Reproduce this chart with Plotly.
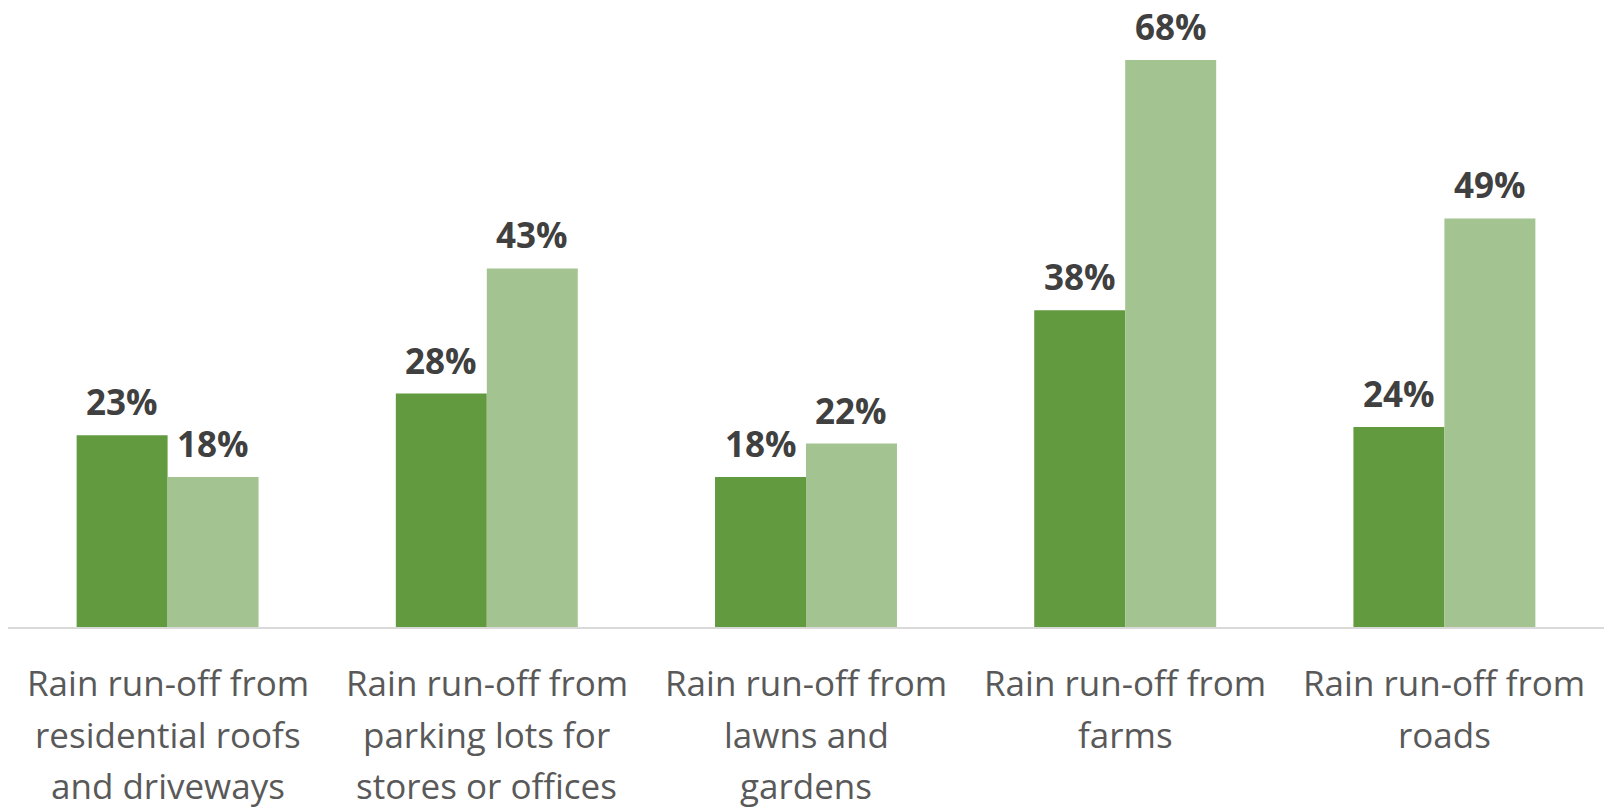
import plotly.graph_objects as go

categories = [
    "Rain run-off from<br>residential roofs<br>and driveways",
    "Rain run-off from<br>parking lots for<br>stores or offices",
    "Rain run-off from<br>lawns and<br>gardens",
    "Rain run-off from<br>farms",
    "Rain run-off from<br>roads",
]
series_a = [23, 28, 18, 38, 24]
series_b = [18, 43, 22, 68, 49]

DARK = "#629A3F"
LIGHT = "#A3C490"
BARGAP = 0.43

fig = go.Figure()
x_idx = list(range(len(categories)))
fig.add_trace(go.Bar(x=x_idx, y=series_a, marker=dict(color=DARK, line=dict(width=0)),
                     name="Series A", hoverinfo="y"))
fig.add_trace(go.Bar(x=x_idx, y=series_b, marker=dict(color=LIGHT, line=dict(width=0)),
                     name="Series B", hoverinfo="y"))

annotations = []
half = (1 - BARGAP) / 4
label_font = dict(family="Open Sans, Carlito, sans-serif", size=35, color="#404040")
for i, (a, b) in enumerate(zip(series_a, series_b)):
    for off, v in ((-half, a), (half, b)):
        annotations.append(dict(x=i + off, y=v, xref="x", yref="y", text=f"<b>{v}%</b>",
                                showarrow=False, yanchor="bottom", xanchor="center",
                                yshift=8, font=label_font))

tick_font = dict(family="Open Sans, Carlito, sans-serif", size=35, color="#595959")
for i, cat in enumerate(categories):
    for j, line in enumerate(cat.split("<br>")):
        annotations.append(dict(x=i, y=0, xref="x", yref="paper", text=line,
                                showarrow=False, yanchor="top", xanchor="center",
                                yshift=-30 - 51.5 * j, font=tick_font))

fig.update_layout(
    width=1604, height=808,
    margin=dict(l=8, r=0, t=0, b=181),
    paper_bgcolor="white", plot_bgcolor="white",
    barmode="group", bargap=BARGAP, bargroupgap=0,
    showlegend=False,
    annotations=annotations,
    xaxis=dict(range=[-0.5, len(categories) - 0.5], showticklabels=False, ticks="",
               showgrid=False, zeroline=False, showline=True, linecolor="#D9D9D9", linewidth=2),
    yaxis=dict(range=[0, 75.2], visible=False, showgrid=False, zeroline=False),
)

fig.write_html("out.html", config={"displayModeBar": False})
